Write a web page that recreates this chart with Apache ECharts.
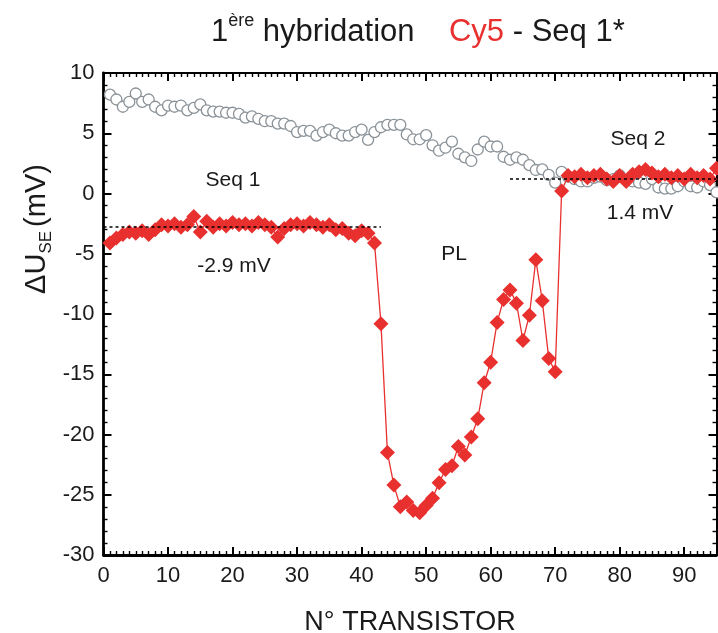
<!DOCTYPE html>
<html><head><meta charset="utf-8">
<script src="https://cdn.jsdelivr.net/npm/echarts@6/dist/echarts.min.js"></script>
<style>html,body{margin:0;padding:0;background:#fff}#c{width:718px;height:633px}</style>
</head><body><div id="c"></div>
<script>
// ---- data ----
const transistorIds = [1,2,3,4,5,6,7,8,9,10,11,12,13,14,15,16,17,18,19,20,21,22,23,24,25,26,27,28,29,30,31,32,33,34,35,36,37,38,39,40,41,42,43,44,45,46,47,48,49,50,51,52,53,54,55,56,57,58,59,60,61,62,63,64,65,66,67,68,69,70,71,72,73,74,75,76,77,78,79,80,81,82,83,84,85,86,87,88,89,90,91,92,93,94,95];
const cy5Values = [-4.1,-3.7,-3.4,-3.2,-3.3,-3.1,-3.4,-3.0,-2.6,-2.7,-2.5,-2.8,-2.6,-1.9,-3.2,-2.3,-2.8,-2.5,-2.7,-2.4,-2.6,-2.5,-2.7,-2.4,-2.6,-2.8,-3.6,-2.9,-2.6,-2.5,-2.7,-2.4,-2.6,-2.8,-2.6,-3.0,-2.9,-3.3,-3.5,-3.1,-3.3,-4.1,
  -10.8,-21.5,-24.2,-26.0,-25.6,-26.3,-26.5,-25.9,-25.3,-24.0,-22.9,-22.6,-21.0,-21.7,-20.2,-18.7,-15.7,-14.0,-10.7,-8.8,-8.0,-9.1,-12.2,-10.1,-5.5,-8.9,-13.7,-14.8,
  0.2,1.5,1.4,1.6,1.3,1.5,1.6,1.2,1.0,1.5,1.0,1.6,1.8,2.0,1.7,1.4,1.6,1.3,1.5,1.2,1.6,1.3,1.5,1.2,2.1];
const referenceValues = [8.2,7.8,7.2,7.6,8.3,7.6,7.8,7.2,6.9,7.3,7.2,7.3,6.9,7.1,7.4,6.9,6.8,6.8,6.7,6.7,6.6,6.3,6.4,6.2,6.0,6.0,5.8,5.8,5.6,5.1,5.2,5.2,4.8,5.1,5.3,5.0,4.8,4.8,5.1,5.3,4.45,5.1,5.5,5.7,5.7,5.7,4.9,4.5,4.5,4.85,4.0,3.55,3.8,4.3,3.3,3.0,2.7,3.65,4.3,3.9,3.9,3.05,2.8,3.0,2.8,2.35,1.95,2.0,1.55,0.9,1.8,
  1.4,1.2,1.0,1.0,1.3,1.4,1.1,1.2,1.5,1.1,1.0,0.9,0.8,1.2,0.5,0.4,0.4,0.6,1.0,0.6,0.5,1.0,0.7,0.1];
const xTickLabels = [0,10,20,30,40,50,60,70,80,90];
const yTickLabels = [10,5,0,-5,-10,-15,-20,-25,-30];
const xMax = 95;
const seq1Level = -2.75, seq1Range = [0, 43];
const seq2Level = 1.25, seq2Range = [63, 95];

// ---- chart ----
const RED = '#e8302f';
const GRAY = '#8a9298';
const FONT = '"Liberation Sans",Arial,sans-serif';
const chart = echarts.init(document.getElementById('c'), null, {renderer:'canvas'});

const xInt = xTickLabels[1]-xTickLabels[0];
const yInt = yTickLabels[0]-yTickLabels[1];
const yMin = yTickLabels[yTickLabels.length-1], yMax = yTickLabels[0];
const pairs = (ys) => transistorIds.map((x,i)=>[x, ys[i]]);

function axis(pos, isX, main){
  return {
    type:'value', position:pos,
    min: isX ? xTickLabels[0] : yMin, max: isX ? xMax : yMax, interval: isX ? xInt : yInt,
    axisLine:{show:true, onZero:false, lineStyle:{color:'#000', width: main ? 2.8 : 2}},
    axisTick:{show:true, inside:true, length:8, lineStyle:{color:'#000', width:2}},
    minorTick:{show:true, splitNumber: isX ? 10 : 5, length:4, lineStyle:{color:'#000', width:1.4}},
    splitLine:{show:false}, minorSplitLine:{show:false},
    axisLabel:{show:main, fontSize:22, color:'#1a1a1a', fontFamily:FONT, margin: isX ? 10 : 9, showMaxLabel: isX ? false : true}
  };
}
const xBottom = axis('bottom', true, true);
xBottom.name = 'N° TRANSISTOR';
xBottom.nameLocation = 'middle';
xBottom.nameGap = 54;
xBottom.nameTextStyle = {fontSize:27, color:'#1a1a1a', fontFamily:FONT};

chart.setOption({
  animation:false,
  backgroundColor:'#fff',
  title:{
    left:206, top:5,
    text:'{n|1}{sup|ère}{n| hybridation    }{r|Cy5}{n| - Seq 1*}',
    textStyle:{
      fontWeight:'normal',
      rich:{
        n:{fontSize:31, fontWeight:'normal', color:'#1a1a1a', fontFamily:FONT, verticalAlign:'bottom', lineHeight:38},
        sup:{fontSize:18, fontWeight:'normal', color:'#1a1a1a', fontFamily:FONT, verticalAlign:'top', lineHeight:38, padding:[2,0,0,0]},
        r:{fontSize:31, fontWeight:'normal', color:RED, fontFamily:FONT, verticalAlign:'bottom', lineHeight:38}
      }
    }
  },
  grid:{left:103.5, right:1.5, top:73, bottom:78, containLabel:false, outerBoundsMode:'none'},
  xAxis:[ xBottom, axis('top', true, false) ],
  yAxis:[ axis('left', false, true), axis('right', false, false) ],
  series:[
    {type:'line', name:'reference', data:pairs(referenceValues),
      lineStyle:{width:0, opacity:0}, symbol:'circle', symbolSize:11,
      itemStyle:{color:'#fff', borderColor:GRAY, borderWidth:1.3}, z:2},
    {type:'line', name:'Cy5', data:pairs(cy5Values),
      lineStyle:{width:1.3, color:RED}, symbol:'diamond', symbolSize:15,
      itemStyle:{color:RED, borderWidth:0}, z:3,
      markLine:{silent:true, symbol:'none', label:{show:false},
        lineStyle:{color:'#000', type:[3,3], width:1.5},
        data:[
          [{coord:[seq1Range[0], seq1Level]},{coord:[seq1Range[1], seq1Level]}],
          [{coord:[seq2Range[0], seq2Level]},{coord:[seq2Range[1], seq2Level]}]
        ]}}
  ],
  graphic:[
    {type:'text', x:37, y:229, rotation:Math.PI/2,
      style:{text:'{a|ΔU}{s|SE}{a|(mV)}', align:'center', verticalAlign:'middle',
        rich:{
          a:{fontSize:29, fill:'#1a1a1a', fontFamily:FONT, lineHeight:36, verticalAlign:'middle'},
          s:{fontSize:17, fill:'#1a1a1a', fontFamily:FONT, lineHeight:18, verticalAlign:'bottom', padding:[0,4,0,0]}
        }}},
    {type:'text', x:233, y:180, style:{text:'Seq 1', fontSize:21, fill:'#1a1a1a', fontFamily:FONT, align:'center', verticalAlign:'middle'}},
    {type:'text', x:234, y:266, style:{text:'-2.9 mV', fontSize:21, fill:'#1a1a1a', fontFamily:FONT, align:'center', verticalAlign:'middle'}},
    {type:'text', x:454, y:254, style:{text:'PL', fontSize:21, fill:'#1a1a1a', fontFamily:FONT, align:'center', verticalAlign:'middle'}},
    {type:'text', x:638, y:139, style:{text:'Seq 2', fontSize:21, fill:'#1a1a1a', fontFamily:FONT, align:'center', verticalAlign:'middle'}},
    {type:'text', x:640, y:213, style:{text:'1.4 mV', fontSize:21, fill:'#1a1a1a', fontFamily:FONT, align:'center', verticalAlign:'middle'}}
  ]
});
</script>
</body></html>
